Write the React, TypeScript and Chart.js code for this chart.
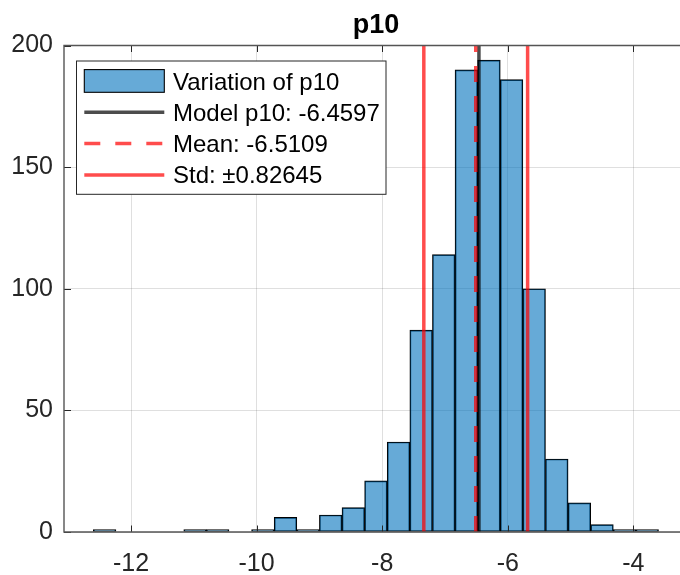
import React, { useEffect, useRef } from "react";
import { Chart, registerables } from "chart.js";

Chart.register(...registerables);

// ---- data ----
const binEdges = [
  -12.6, -12.24, -11.88, -11.52, -11.16, -10.8, -10.44, -10.08, -9.72, -9.36,
  -9.0, -8.64, -8.28, -7.92, -7.56, -7.2, -6.84, -6.48, -6.12, -5.76, -5.4,
  -5.04, -4.68, -4.32, -3.96, -3.6,
];
const binCounts = [
  1, 0, 0, 0, 1, 1, 0, 1, 6, 1, 7, 10, 21, 37, 83, 114, 190, 194, 186, 100, 30,
  12, 3, 1, 1,
];
const modelValue = -6.4597;
const meanValue = -6.5109;
const stdValue = 0.82645;
const xTickValues = [-12, -10, -8, -6, -4];
const yTickValues = [0, 50, 100, 150, 200];
const xRange = [-13.067, -3.258];
const yRange = [0, 200];
const titleText = "p10";
const legendLabels = [
  "Variation of p10",
  `Model p10: ${modelValue}`,
  `Mean: ${meanValue}`,
  `Std: \u00b1${stdValue}`,
];

const FONT = "'Liberation Sans', Arial, Helvetica, sans-serif";
const BAR_FILL = "rgba(0,114,189,0.6)";
const MODEL_COLOR = "rgba(0,0,0,0.7)";
const RED = "rgba(255,0,0,0.7)";

const framePlugin = {
  id: "frame",
  afterDatasetsDraw(chart: any) {
    const { ctx, chartArea: a, scales } = chart;
    ctx.save();
    // inward ticks
    ctx.strokeStyle = "#262626";
    ctx.lineWidth = 1;
    ctx.beginPath();
    for (const v of xTickValues) {
      const px = Math.round(scales.x.getPixelForValue(v)) + 0.5;
      ctx.moveTo(px, a.bottom);
      ctx.lineTo(px, a.bottom - 6.5);
      ctx.moveTo(px, a.top);
      ctx.lineTo(px, a.top + 6.5);
    }
    for (const v of yTickValues) {
      const py = Math.round(scales.y.getPixelForValue(v)) + 0.5;
      ctx.moveTo(a.left, py);
      ctx.lineTo(a.left + 7, py);
    }
    ctx.stroke();
    // box
    ctx.strokeStyle = "#555555";
    ctx.lineWidth = 1.4;
    ctx.beginPath();
    ctx.moveTo(a.right, a.top);
    ctx.lineTo(a.left, a.top);
    ctx.lineTo(a.left, a.bottom);
    ctx.lineTo(a.right, a.bottom);
    ctx.stroke();
    ctx.restore();
  },
  afterDraw(chart: any) {
    const { ctx } = chart;
    ctx.save();
    // title
    ctx.fillStyle = "#000";
    ctx.font = `bold 27px ${FONT}`;
    ctx.textAlign = "center";
    ctx.textBaseline = "alphabetic";
    ctx.fillText(titleText, 376, 33.3);

    // legend box
    const bx = 76.5, by = 61, bw = 309.5, bh = 133.3;
    ctx.fillStyle = "#fff";
    ctx.fillRect(bx, by, bw, bh);
    ctx.strokeStyle = "#262626";
    ctx.lineWidth = 1;
    ctx.strokeRect(bx, by, bw, bh);

    const rows = [81, 112.3, 143.6, 174.9];
    const sx0 = 84.3, sx1 = 164.3;
    // patch
    ctx.fillStyle = BAR_FILL;
    ctx.fillRect(sx0, rows[0] - 11.4, sx1 - sx0, 22.7);
    ctx.strokeStyle = "#000";
    ctx.lineWidth = 1.1;
    ctx.strokeRect(sx0, rows[0] - 11.4, sx1 - sx0, 22.7);
    // model line
    ctx.lineCap = "butt";
    ctx.lineWidth = 3.5;
    ctx.strokeStyle = MODEL_COLOR;
    ctx.beginPath();
    ctx.moveTo(sx0, rows[1]);
    ctx.lineTo(sx1, rows[1]);
    ctx.stroke();
    // mean dashed
    ctx.strokeStyle = RED;
    ctx.setLineDash([16, 15]);
    ctx.beginPath();
    ctx.moveTo(sx0, rows[2]);
    ctx.lineTo(sx1, rows[2]);
    ctx.stroke();
    ctx.setLineDash([]);
    // std solid
    ctx.beginPath();
    ctx.moveTo(sx0, rows[3]);
    ctx.lineTo(sx1, rows[3]);
    ctx.stroke();

    ctx.fillStyle = "#000";
    ctx.font = `24px ${FONT}`;
    ctx.textAlign = "left";
    ctx.textBaseline = "alphabetic";
    legendLabels.forEach((t, i) => {
      ctx.fillText(t, 173, rows[i] + 8.5);
    });
    ctx.restore();
  },
};

export default function App() {
  const ref = useRef<HTMLCanvasElement | null>(null);

  useEffect(() => {
    if (!ref.current) return;
    const barData = binCounts.map((c, i) => ({
      x: (binEdges[i] + binEdges[i + 1]) / 2,
      y: c,
    }));
    const vline = (x: number) => [
      { x, y: yRange[0] },
      { x, y: yRange[1] },
    ];
    const lineCommon = {
      type: "line" as const,
      pointRadius: 0,
      fill: false,
      borderWidth: 3.5,
      borderCapStyle: "butt",
      tension: 0,
    };
    const chart = new Chart(ref.current, {
      type: "bar",
      data: {
        datasets: [
          {
            ...lineCommon,
            label: legendLabels[2],
            data: vline(meanValue),
            borderColor: RED,
            borderDash: [16, 14],
            order: 0,
          } as any,
          {
            ...lineCommon,
            label: legendLabels[1],
            data: vline(modelValue),
            borderColor: MODEL_COLOR,
            order: 1,
          } as any,
          {
            ...lineCommon,
            label: legendLabels[3],
            data: vline(meanValue - stdValue),
            borderColor: RED,
            order: 2,
          } as any,
          {
            ...lineCommon,
            label: legendLabels[3] + " ",
            data: vline(meanValue + stdValue),
            borderColor: RED,
            order: 2,
          } as any,
          {
            type: "bar",
            label: legendLabels[0],
            data: barData,
            backgroundColor: BAR_FILL,
            borderColor: "#000",
            borderWidth: 1,
            borderSkipped: false,
            barPercentage: 1,
            categoryPercentage: 1,
            order: 10,
          } as any,
        ],
      },
      options: {
        responsive: false,
        animation: false,
        devicePixelRatio: 1,
        events: [],
        layout: { padding: { top: 45.5, left: 0, right: 0, bottom: 0 } },
        plugins: {
          legend: { display: false },
          title: { display: false },
          tooltip: { enabled: false },
        },
        scales: {
          x: {
            type: "linear",
            min: xRange[0],
            max: xRange[1],
            offset: false,
            afterBuildTicks: (s: any) => {
              s.ticks = xTickValues.map((v) => ({ value: v }));
            },
            afterFit: (s: any) => {
              s.height = 43;
            },
            grid: {
              color: "rgba(38,38,38,0.15)",
              lineWidth: 1,
              drawTicks: false,
              offset: false,
            },
            border: { display: false },
            ticks: {
              padding: 17,
              color: "#262626",
              font: { family: FONT, size: 25 },
              maxRotation: 0,
              autoSkip: false,
            },
          },
          y: {
            type: "linear",
            min: yRange[0],
            max: yRange[1],
            afterBuildTicks: (s: any) => {
              s.ticks = yTickValues.map((v) => ({ value: v }));
            },
            afterFit: (s: any) => {
              s.width = 64;
            },
            grid: {
              color: "rgba(38,38,38,0.15)",
              lineWidth: 1,
              drawTicks: false,
            },
            border: { display: false },
            ticks: {
              padding: 11,
              color: "#262626",
              font: { family: FONT, size: 25 },
            },
          },
        },
      },
      plugins: [framePlugin],
    });
    return () => chart.destroy();
  }, []);

  return (
    <div style={{ position: "absolute", left: 0, top: 0, width: 680, height: 575 }}>
      <canvas ref={ref} width={680} height={575} style={{ display: "block" }} />
    </div>
  );
}
